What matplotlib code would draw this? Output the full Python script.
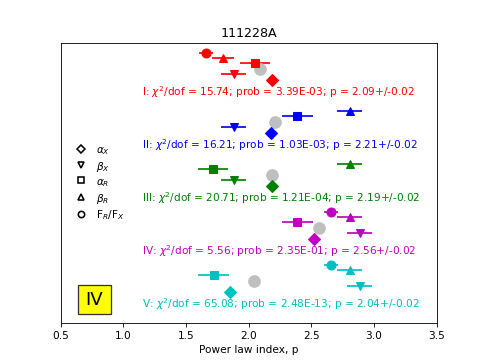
import matplotlib.pyplot as plt
import numpy as np
from matplotlib.lines import Line2D
from matplotlib.patches import Rectangle

# power law indices per segment (I..V)
segments = ['I', 'II', 'III', 'IV', 'V']
colors = ['r', 'b', 'g', 'm', 'c']
alpha_x = [2.19, 2.18, 2.19, 2.52, 1.85]
beta_x = [1.88, 1.88, 1.88, 2.885, 2.885]
alpha_r = [2.05, 2.39, 1.715, 2.39, 1.72]
beta_r = [1.795, 2.805, 2.805, 2.805, 2.805]
fr_fx = [1.66, np.nan, np.nan, 2.66, 2.66]
beta_x_err = [0.10, 0.10, 0.10, 0.10, 0.10]
alpha_r_err = [0.12, 0.12, 0.12, 0.12, 0.12]
beta_r_err = [0.09, 0.10, 0.10, 0.10, 0.10]
fr_fx_err = [0.056, 0.056, 0.056, 0.056, 0.056]
chi2_dof = ['15.74', '16.21', '20.71', '5.56', '65.08']
prob = ['3.39E-03', '1.03E-03', '1.21E-04', '2.35E-01', '2.48E-13']
p_fit = [2.09, 2.21, 2.19, 2.56, 2.04]
p_err = ['0.02', '0.02', '0.02', '0.02', '0.02']

fig = plt.figure(figsize=(6.4, 4.8), dpi=75.8)
ax = fig.add_subplot(111)

n = len(segments)
for i in range(n):
    base = 10 * (n - 1 - i)
    c = colors[i]
    ax.errorbar(fr_fx[i], base + 11, xerr=fr_fx_err[i], fmt='o', color=c, ms=8.5, elinewidth=1.6, capsize=0)
    ax.errorbar(beta_r[i], base + 10, xerr=beta_r_err[i], fmt='^', color=c, ms=8.5, elinewidth=1.6, capsize=0)
    ax.errorbar(alpha_r[i], base + 9, xerr=alpha_r_err[i], fmt='s', color=c, ms=8.5, elinewidth=1.6, capsize=0)
    ax.plot(p_fit[i], base + 8, 'o', color='0.75', ms=11)
    ax.errorbar(beta_x[i], base + 7, xerr=beta_x_err[i], fmt='v', color=c, ms=8.5, elinewidth=1.6, capsize=0)
    ax.plot(alpha_x[i], base + 5.9, 'D', color=c, ms=8.5)
    ax.text(1.15, base + 3.8,
            segments[i] + r': $\chi^2$/dof = ' + chi2_dof[i] + '; prob = ' + prob[i]
            + '; p = %.2f+/-' % p_fit[i] + p_err[i],
            color=c, fontsize=10, va='center', ha='left')

handles = [
    Line2D([], [], ls='none', marker='D', mfc='white', mec='black', mew=1.5, ms=5),
    Line2D([], [], ls='none', marker='v', mfc='white', mec='black', mew=1.5, ms=6),
    Line2D([], [], ls='none', marker='s', mfc='white', mec='black', mew=1.5, ms=5.5),
    Line2D([], [], ls='none', marker='^', mfc='white', mec='black', mew=1.5, ms=6),
    Line2D([], [], ls='none', marker='o', mfc='white', mec='black', mew=1.5, ms=6),
]
labels = [r'$\alpha_X$', r'$\beta_X$', r'$\alpha_R$', r'$\beta_R$', r'F$_R$/F$_X$']
ax.legend(handles, labels, loc='center left', frameon=False, fontsize=10, numpoints=1,
          labelspacing=0.28, handletextpad=0.5)

# segment label box
ax.add_patch(Rectangle((0.045, 0.033), 0.089, 0.102, transform=ax.transAxes,
                       facecolor='yellow', edgecolor='0.2', lw=1.2))
ax.text(0.0895, 0.084, 'IV', transform=ax.transAxes, fontsize=17.28,
        ha='center', va='center')

ax.set_xlim(0.5, 3.5)
ax.set_ylim(0, 52.9)
ax.set_yticks([])
ax.set_xlabel('Power law index, p')
ax.set_title('111228A')

fig.savefig('out.png', dpi=75.8)
